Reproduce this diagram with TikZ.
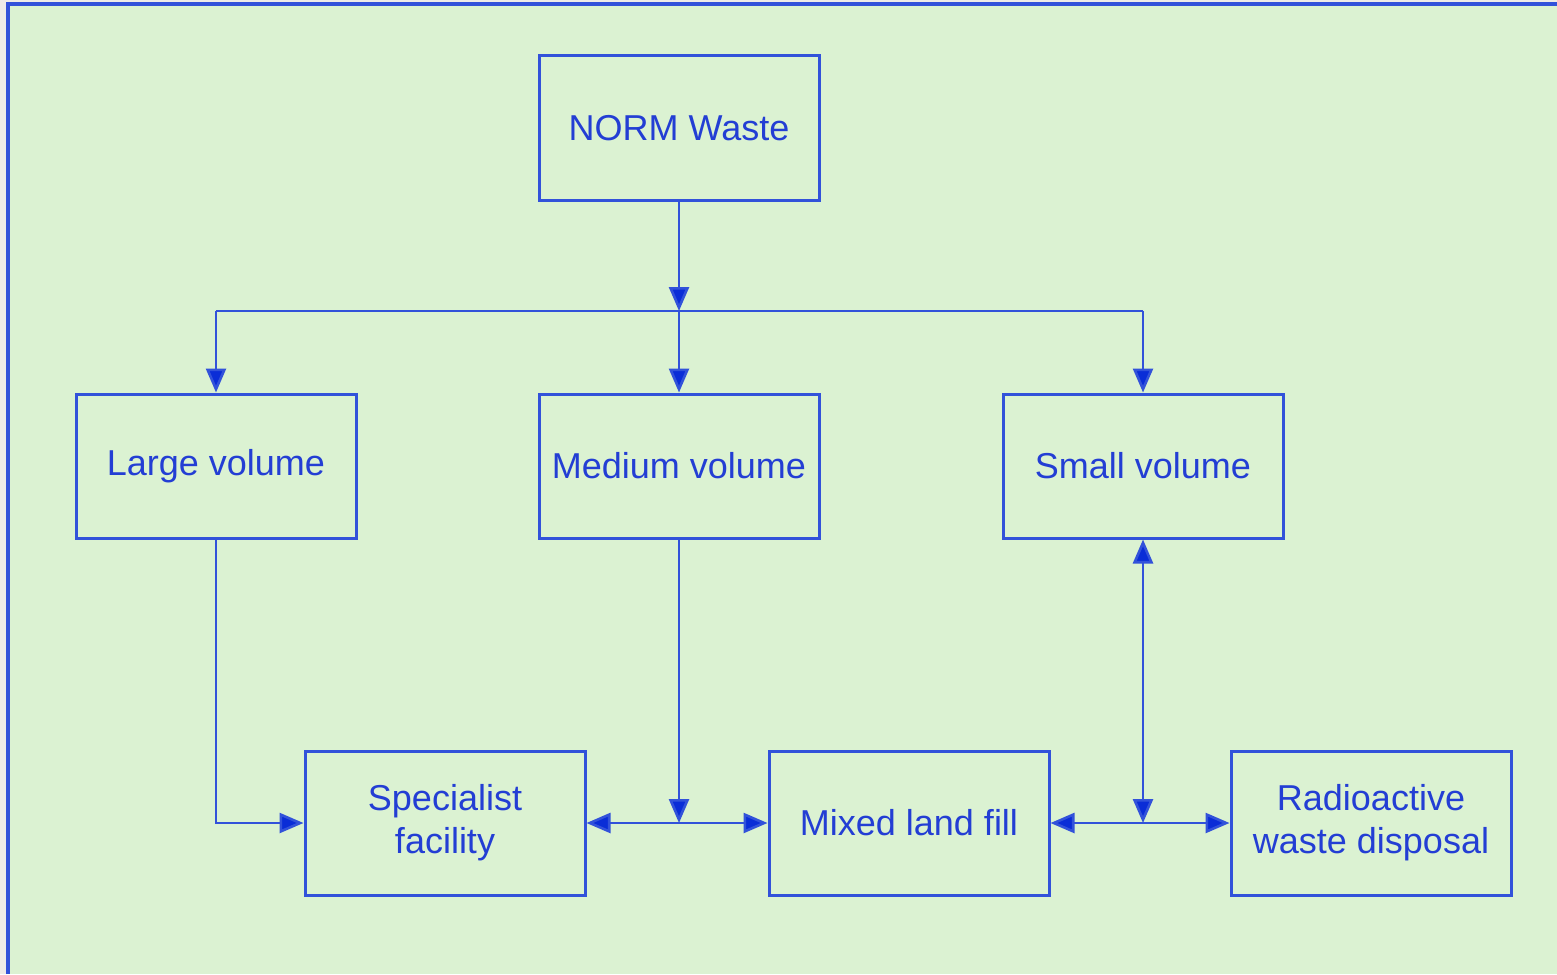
\documentclass[tikz,border=0pt]{standalone}
\usepackage{fontspec}
\setmainfont{Liberation Sans}
\usetikzlibrary{arrows.meta}
\definecolor{pagegrey}{RGB}{238,235,232}
\definecolor{panelgreen}{RGB}{219,242,210}
\definecolor{normblue}{RGB}{50,82,218}
\definecolor{tipblue}{RGB}{10,45,215}
\definecolor{textblue}{RGB}{35,62,212}
\tikzset{
	wastebox/.style={draw=normblue, line width=1.5pt, minimum width=140pt, minimum height=72pt,
		inner sep=0pt, align=center, text=textblue, font=\fontsize{18}{21.5}\selectfont},
	flow/.style={draw=normblue, line width=1.3pt, -{Triangle[length=12pt,width=10pt,fill=tipblue]}},
	twoway/.style={flow, {Triangle[length=12pt,width=10pt,fill=tipblue]}-{Triangle[length=12pt,width=10pt,fill=tipblue]}}
}

\begin{document}
\begin{tikzpicture}[x=0.5pt, y=-0.5pt]
		%%%%% START %%%%%
		
		\useasboundingbox (0, 0) rectangle (1557, 974);
		\fill[pagegrey] (0, 0) rectangle (1557, 974);
		\fill[panelgreen] (8, 4) rectangle (1557, 974);
		\draw[normblue, line width=1.7pt] (8, 974) -- (8, 4) -- (1557, 4);
		
		\node[wastebox] (norm) at (679, 128) {NORM Waste};
		
		\node[wastebox] (large) at (216, 466) {Large volume};
		\node[wastebox] (medium) at (679, 466) {Medium volume};
		\node[wastebox] (small) at (1143, 466) {Small volume};
		
		\node[wastebox] (specialist) at (445, 823) {Specialist\\facility};
		\node[wastebox] (landfill) at (909, 823) {Mixed land fill};
		\node[wastebox] (disposal) at (1371, 823) {Radioactive\\waste disposal};
		
		\coordinate (busL) at (216, 311);
		\coordinate (busM) at (679, 311);
		\coordinate (busR) at (1143, 311);
		
		\draw[draw=normblue, line width=1.3pt] (busL) -- (busR);
		\draw[flow] (norm.south) -- (busM);
		\draw[flow] (busL) -- (large.north);
		\draw[flow] (busM) -- (medium.north);
		\draw[flow] (busR) -- (small.north);
		
		\draw[flow] (large.south) |- (specialist.west);
		\draw[twoway] (specialist.east) -- (landfill.west);
		\draw[flow] (medium.south) -- (medium.south |- landfill.west);
		
		\draw[twoway] (small.south) -- (small.south |- disposal.west);
		\draw[twoway] (landfill.east) -- (disposal.west);
		
		%%%%% END %%%%%
	\end{tikzpicture}
\end{document}
